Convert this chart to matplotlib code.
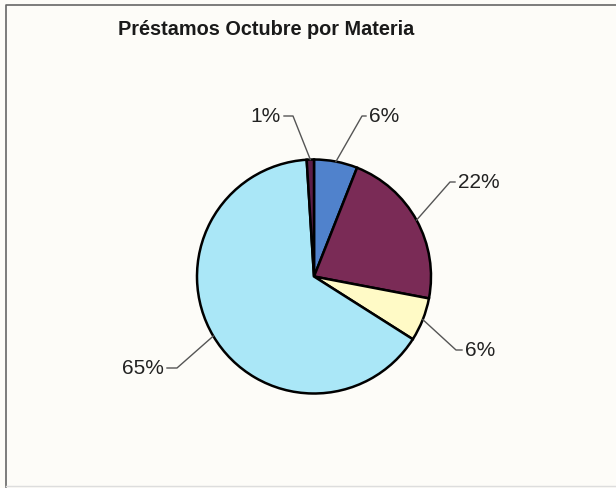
import matplotlib
matplotlib.use("Agg")
import matplotlib.pyplot as plt
import numpy as np

plt.rcParams['font.family'] = ['Liberation Sans', 'DejaVu Sans']

W, H = 616, 489

# data, clockwise from 12 o'clock
shares = [6, 22, 6, 65, 1]
labels = ['6%', '22%', '6%', '65%', '1%']
colors = ['#5082cc', '#7a2b56', '#fffac6', '#aae7f7', '#5c1f4a']

# label text anchors (image px) and bend points of the leader lines
text_pos = [(369, 117), (458, 183), (465, 351), (164, 369), (281, 117)]
text_ha = ['left', 'left', 'left', 'right', 'right']
bend_pos = [(362, 117), (450, 183), (456, 351), (177, 369), (293, 117)]


def yy(y):
    return H - y


fig = plt.figure(figsize=(W / 100, H / 100), dpi=100)
fig.patch.set_facecolor('#fdfcf8')
ax = fig.add_axes([0, 0, 1, 1])

cx, cy, r = 314, yy(277.5), 117
wedges, _ = ax.pie(shares, colors=colors, startangle=90, counterclock=False,
                   center=(cx, cy), radius=r, frame=True,
                   wedgeprops=dict(edgecolor='black', linewidth=1.8))
ax.set_xlim(0, W)
ax.set_ylim(0, H)
ax.set_aspect('equal')
ax.axis('off')

# chart frame
ax.plot([6, 6, W], [yy(488), yy(6), yy(6)], color='#666666', lw=1.2)
ax.plot([6, W], [yy(487), yy(487)], color='#dddddd', lw=1)

for w, lab, tp, ha, bp in zip(wedges, labels, text_pos, text_ha, bend_pos):
    ang = np.deg2rad((w.theta1 + w.theta2) / 2)
    ex = cx + r * np.cos(ang)
    ey = cy + r * np.sin(ang)
    tx = tp[0] + (-3 if ha == 'left' else 3)
    ax.plot([ex, bp[0], tx], [ey, yy(bp[1]), yy(tp[1])],
            color='#555555', lw=1)
    ax.text(tp[0], yy(tp[1]), lab, ha=ha, va='center', fontsize=15,
            color='#222222')

ax.text(266, yy(30), 'Préstamos Octubre por Materia', ha='center',
        va='center', fontsize=14.3, fontweight='bold', color='#1a1a1a')

fig.savefig('out.png', dpi=100, facecolor=fig.get_facecolor())
